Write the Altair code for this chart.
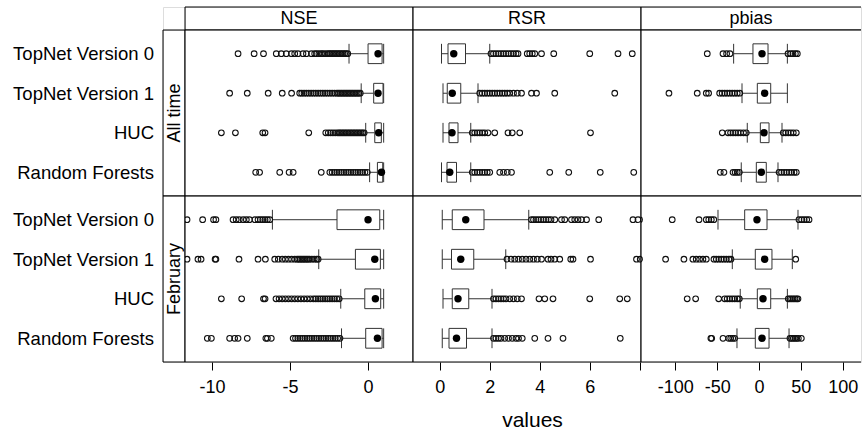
import altair as alt
import pandas as pd

# ---------------- data ----------------
models = ["TopNet Version 0", "TopNet Version 1", "HUC", "Random Forests"]
metrics = ["NSE", "RSR", "pbias"]
periods = ["All time", "February"]

# box statistics per model: [lower whisker, Q1, median, Q3, upper whisker]
stats_nse_all = [[-1.22, 0.0, 0.64, 0.9, 1.0],
                 [-0.44, 0.36, 0.64, 0.96, 1.0],
                 [-0.15, 0.43, 0.68, 0.85, 1.0],
                 [0.1, 0.6, 0.86, 0.94, 1.0]]
stats_nse_feb = [[-6.13, -1.99, 0.0, 0.75, 1.0],
                 [-3.16, -0.81, 0.43, 0.79, 1.0],
                 [-1.75, -0.21, 0.47, 0.81, 1.0],
                 [-1.7, -0.15, 0.6, 0.9, 1.0]]
stats_rsr_all = [[0.07, 0.33, 0.56, 1.03, 2.0],
                 [0.13, 0.3, 0.5, 0.84, 1.53],
                 [0.13, 0.37, 0.49, 0.73, 1.24],
                 [0.07, 0.29, 0.4, 0.67, 1.24]]
stats_rsr_feb = [[0.1, 0.5, 1.04, 1.77, 3.56],
                 [0.1, 0.47, 0.84, 1.36, 2.64],
                 [0.13, 0.5, 0.73, 1.16, 2.09],
                 [0.1, 0.37, 0.67, 1.07, 2.09]]
stats_pbias_all = [[-30.3, -7.2, 3.6, 10.8, 33.9],
                   [-20.3, -2.0, 6.8, 14.0, 33.9],
                   [-14.0, 1.6, 6.0, 12.0, 27.5],
                   [-21.2, -3.2, 2.8, 8.7, 22.7]]
stats_pbias_feb = [[-49.0, -17.1, -2.4, 9.6, 46.6],
                   [-31.9, -4.4, 6.8, 15.5, 39.8],
                   [-22.4, -2.0, 4.8, 14.0, 33.9],
                   [-26.3, -4.4, 3.6, 12.0, 35.9]]

# outliers per model
out_nse_all = [
    [-8.33, -7.3, -6.7, -5.88, -5.56, -5.24, -4.91, -4.7, -4.49, -4.17, -3.95, -3.63, -3.42, -3.3,
     -3.15, -3.0, -2.9, -2.75, -2.6, -2.5, -2.4, -2.3, -2.2, -2.1, -2.0, -1.9, -1.8, -1.7, -1.6,
     -1.5, -1.4, -1.3],
    [-8.87, -7.74, -6.4, -5.5, -4.9, -4.38, -4.25, -4.1, -3.95, -3.8, -3.65, -3.5, -3.35, -3.2,
     -3.05, -2.9, -2.75, -2.6, -2.45, -2.3, -2.15, -2.0, -1.9, -1.8, -1.7, -1.6, -1.5, -1.4, -1.3,
     -1.2, -1.1, -1.0, -0.9, -0.8, -0.7, -0.6, -0.5],
    [-9.4, -8.5, -6.75, -6.6, -3.8, -2.71, -2.55, -2.4, -2.25, -2.1, -1.95, -1.85, -1.75, -1.65,
     -1.55, -1.45, -1.35, -1.25, -1.15, -1.05, -0.95, -0.85, -0.75, -0.65, -0.55, -0.45, -0.35,
     -0.25],
    [-7.2, -6.95, -5.66, -5.06, -4.8, -3.0, -2.45, -2.3, -2.15, -2.0, -1.85, -1.7, -1.55, -1.4,
     -1.25, -1.1, -0.95, -0.8, -0.65, -0.5, -0.35, -0.2, -0.05],
]
out_nse_feb = [
    [-11.6, -10.6, -9.9, -9.75, -8.65, -8.45, -8.25, -8.0, -7.8, -7.6, -7.25, -7.05, -6.9, -6.75,
     -6.6, -6.45, -6.3],
    [-11.6, -10.9, -10.7, -9.8, -9.75, -8.27, -7.05, -6.58, -5.98, -5.75, -5.5, -5.3, -5.1, -4.9,
     -4.7, -4.55, -4.45, -4.35, -4.25, -4.15, -4.05, -3.95, -3.85, -3.75, -3.6, -3.45, -3.3, -3.2],
    [-9.4, -8.1, -6.7, -6.6, -5.9, -5.7, -5.5, -5.3, -5.1, -4.9, -4.7, -4.5, -4.3, -4.1, -3.9,
     -3.7, -3.5, -3.35, -3.2, -3.05, -2.9, -2.75, -2.6, -2.45, -2.3, -2.15, -2.0, -1.85],
    [-10.3, -10.04, -8.87, -8.55, -8.33, -7.74, -6.55, -6.45, -6.2, -4.8, -4.65, -4.5, -4.35,
     -4.2, -4.05, -3.9, -3.75, -3.6, -3.45, -3.3, -3.15, -3.0, -2.85, -2.7, -2.55, -2.4, -2.25,
     -2.1, -1.95, -1.8],
]
out_rsr_all = [
    [2.05, 2.15, 2.25, 2.35, 2.45, 2.55, 2.65, 2.75, 2.85, 2.95, 3.05, 3.13, 3.5, 3.6, 3.7, 3.8,
     4.07, 4.56, 6.0, 7.13, 7.7],
    [1.6, 1.7, 1.8, 1.9, 2.0, 2.1, 2.2, 2.3, 2.4, 2.5, 2.6, 2.7, 2.8, 2.95, 3.1, 3.27, 3.67, 3.87,
     4.6, 7.0],
    [1.3, 1.4, 1.5, 1.6, 1.7, 1.8, 1.93, 2.2, 2.73, 2.9, 3.2, 6.03],
    [1.3, 1.4, 1.5, 1.6, 1.7, 1.8, 1.9, 2.0, 2.4, 2.55, 2.7, 2.87, 4.4, 5.16, 6.42, 7.76],
]
out_rsr_feb = [
    [3.67, 3.75, 3.85, 3.95, 4.05, 4.15, 4.25, 4.35, 4.45, 4.6, 4.87, 5.0, 5.27, 5.4, 5.53, 5.67,
     5.87, 6.36, 7.73, 7.93],
    [2.69, 2.85, 3.0, 3.15, 3.3, 3.45, 3.6, 3.75, 3.9, 4.07, 4.33, 4.45, 4.6, 4.8, 5.24, 5.33,
     6.03, 7.87, 8.02],
    [2.15, 2.25, 2.35, 2.45, 2.55, 2.65, 2.8, 2.95, 3.1, 3.27, 3.97, 4.2, 4.53, 6.0, 7.2, 7.5],
    [2.15, 2.25, 2.35, 2.45, 2.6, 2.75, 2.9, 3.05, 3.15, 3.3, 3.8, 4.33, 4.93, 7.22],
]
out_pbias_all = [
    [-61.8, -43.0, -38.7, -34.7, 34.7, 38.0, 40.6, 43.5, 45.8],
    [-107.6, -73.8, -63.0, -60.2, -47.0, -44.0, -41.0, -38.0, -35.0, -32.0, -29.0, -26.0, -23.0],
    [-43.9, -37.0, -34.0, -31.0, -28.0, -25.0, -22.0, -18.5, -15.2, 29.0, 32.0, 35.0, 38.0, 41.0,
     44.6],
    [-46.3, -41.9, -31.0, -28.5, -26.0, -23.5, 24.0, 27.0, 30.0, 33.0, 36.0, 39.0, 42.0, 44.6],
]
out_pbias_feb = [
    [-142.7, -103.7, -71.7, -63.0, -60.0, -57.0, -54.0, 47.8, 51.0, 54.0, 57.0, 59.8],
    [-142.7, -111.6, -89.7, -79.0, -75.0, -71.0, -67.0, -63.0, -53.8, -51.0, -48.0, -45.0,
     -42.0, -39.0, -36.0, -33.5, 43.9],
    [-85.8, -75.7, -48.2, -41.0, -38.0, -35.0, -32.0, -29.0, -26.0, -23.5, 35.0, 37.0, 39.0,
     41.0, 43.0, 45.0, 46.6],
    [-57.5, -56.5, -43.0, -36.2, -33.8, -31.4, -29.1, 37.0, 39.0, 41.0, 43.0, 45.0, 47.0, 50.6],
]

stats = {("All time", "NSE"): stats_nse_all, ("February", "NSE"): stats_nse_feb,
         ("All time", "RSR"): stats_rsr_all, ("February", "RSR"): stats_rsr_feb,
         ("All time", "pbias"): stats_pbias_all, ("February", "pbias"): stats_pbias_feb}
outs = {("All time", "NSE"): out_nse_all, ("February", "NSE"): out_nse_feb,
        ("All time", "RSR"): out_rsr_all, ("February", "RSR"): out_rsr_feb,
        ("All time", "pbias"): out_pbias_all, ("February", "pbias"): out_pbias_feb}

# axis settings
x_domains = {"NSE": [-11.73, 2.88], "RSR": [-1.07, 8.05], "pbias": [-141.0, 121.9]}
x_ticks = {"NSE": [-10, -5, 0], "RSR": [0, 2, 4, 6, 8], "pbias": [-100, -50, 0, 50, 100]}
panel_w = {"NSE": 228, "RSR": 228, "pbias": 220}
ROW_H = 166
STRIP = 22
TOP_STRIP = 23
FONT = "Liberation Sans"
LINE = "#333333"

y_scale = alt.Scale(domain=[0.4, 4.6], reverse=True, nice=False, zero=False)
label_expr = "[" + ",".join("'%s'" % m for m in models) + "][datum.value - 1]"


def frame_rules(w, h, right=True):
    """Panel border drawn as rules (right edge optional, cut off in the reference)."""
    d = pd.DataFrame({"a": [0]})
    edges = [
        dict(x=alt.value(0), x2=alt.value(w), y=alt.value(0)),
        dict(x=alt.value(0), x2=alt.value(w), y=alt.value(h)),
        dict(x=alt.value(0), y=alt.value(0), y2=alt.value(h)),
    ]
    if right:
        edges.append(dict(x=alt.value(w), y=alt.value(0), y2=alt.value(h)))
    return [alt.Chart(d).mark_rule(color="black", strokeWidth=1).encode(**e) for e in edges]


def panel(period, metric, show_axis):
    st = stats[(period, metric)]
    bdf = pd.DataFrame({
        "pos": [i + 1 for i in range(len(models))],
        "lo": [s[0] for s in st], "q1": [s[1] for s in st], "med": [s[2] for s in st],
        "q3": [s[3] for s in st], "hi": [s[4] for s in st]})
    orows = []
    for i, lst in enumerate(outs[(period, metric)]):
        for v in lst:
            orows.append({"pos": i + 1, "value": v})
    odf = pd.DataFrame(orows)
    w = panel_w[metric]
    xs = alt.Scale(domain=x_domains[metric], nice=False, zero=False)
    if show_axis:
        lab = "datum.value == 8 ? '' : datum.value + ''" if metric == "RSR" else "datum.value + ''"
        xa = alt.Axis(values=x_ticks[metric], labelExpr=lab, tickSize=8, tickColor="black",
                      tickWidth=1, labelPadding=8, labelFontSize=18, labelColor="black",
                      labelFont=FONT, domain=False, grid=False, labelFlush=False,
                      labelOverlap=False,
                      title="values" if metric == "RSR" else None,
                      titleFontSize=21, titleFontWeight="normal", titleColor="black",
                      titleFont=FONT, titlePadding=13, titleX=119)
    else:
        xa = None
    ya = alt.Y("pos:Q", scale=y_scale, axis=None)
    base = alt.Chart(bdf).transform_calculate(ylo="datum.pos - 0.25", yhi="datum.pos + 0.25")
    w_lo = base.mark_rule(color=LINE, strokeWidth=1).encode(
        x=alt.X("lo:Q", scale=xs, axis=xa), x2="q1:Q", y=ya)
    w_hi = base.mark_rule(color=LINE, strokeWidth=1).encode(
        x=alt.X("q3:Q", scale=xs, axis=xa), x2="hi:Q", y=ya)
    c_lo = base.mark_rule(color=LINE, strokeWidth=1).encode(
        x=alt.X("lo:Q", scale=xs, axis=xa),
        y=alt.Y("ylo:Q", scale=y_scale, axis=None), y2="yhi:Q")
    c_hi = base.mark_rule(color=LINE, strokeWidth=1).encode(
        x=alt.X("hi:Q", scale=xs, axis=xa),
        y=alt.Y("ylo:Q", scale=y_scale, axis=None), y2="yhi:Q")
    box = base.mark_rect(fill="white", stroke=LINE, strokeWidth=1).encode(
        x=alt.X("q1:Q", scale=xs, axis=xa), x2="q3:Q",
        y=alt.Y("ylo:Q", scale=y_scale, axis=None), y2="yhi:Q")
    med = base.mark_circle(color="black", size=55, opacity=1).encode(
        x=alt.X("med:Q", scale=xs, axis=xa), y=ya)
    pts = alt.Chart(odf).mark_point(shape="circle", filled=False, color="#111111",
                                    size=32, strokeWidth=1.1, clip=True, opacity=1).encode(
        x=alt.X("value:Q", scale=xs, axis=xa), y=ya)
    layers = [w_lo, w_hi, c_lo, c_hi, box, med, pts] + frame_rules(w, ROW_H, right=(metric != "pbias"))
    return alt.layer(*layers).properties(width=w, height=ROW_H)


def top_strip(metric):
    w = panel_w[metric]
    d = pd.DataFrame({"label": [metric]})
    txt = alt.Chart(d).mark_text(fontSize=18, font=FONT, color="black", baseline="middle",
                                 align="center").encode(
        text="label:N", x=alt.value(w / 2), y=alt.value(TOP_STRIP / 2 + 0.5))
    layers = frame_rules(w, TOP_STRIP, right=(metric != "pbias")) + [txt]
    return alt.layer(*layers).properties(width=w, height=TOP_STRIP)


def left_strip(period):
    d = pd.DataFrame({"pos": [i + 1 for i in range(len(models))]})
    ya = alt.Axis(values=[1, 2, 3, 4], labelExpr=label_expr, ticks=False, tickSize=0,
                  domain=False, grid=False, labelFontSize=18.5, labelColor="black",
                  labelFont=FONT, labelPadding=9.5, title=None, labelFlush=False,
                  labelOverlap=False)
    pts = alt.Chart(d).mark_point(opacity=0, size=1).encode(
        y=alt.Y("pos:Q", scale=y_scale, axis=ya), x=alt.value(STRIP / 2))
    t = pd.DataFrame({"label": [period]})
    txt = alt.Chart(t).mark_text(fontSize=18, font=FONT, color="black", angle=270,
                                 baseline="middle", align="center").encode(
        text="label:N", x=alt.value(STRIP / 2 + 0.5), y=alt.value(ROW_H / 2))
    layers = [pts] + frame_rules(STRIP, ROW_H) + [txt]
    return alt.layer(*layers).properties(width=STRIP, height=ROW_H)


empty = alt.Chart(pd.DataFrame({"a": [0]})).mark_point(opacity=0, size=1).encode(
    x=alt.value(STRIP / 2), y=alt.value(TOP_STRIP / 2)).properties(width=STRIP, height=TOP_STRIP)

cells = [empty] + [top_strip(m) for m in metrics]
for p in periods:
    cells.append(left_strip(p))
    for m in metrics:
        cells.append(panel(p, m, show_axis=(p == "February")))

chart = alt.concat(*cells, columns=4, spacing=0, bounds="flush", align="each").resolve_scale(
    x="independent", y="independent").properties(
    padding={"left": 12, "top": 6, "right": 0, "bottom": 0},
    background="white").configure_view(stroke=None).configure(font=FONT)

chart.save("out.html", embed_options={"renderer": "svg", "actions": False})
